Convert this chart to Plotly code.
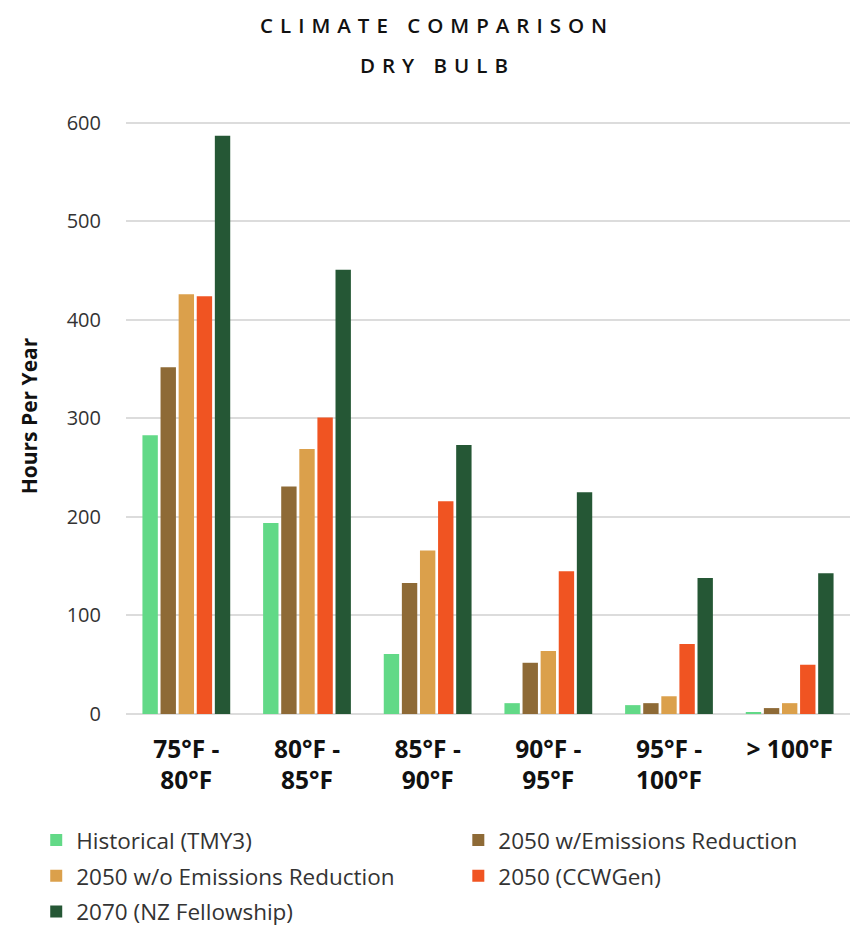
import plotly.graph_objects as go

categories = ["75°F -<br>80°F", "80°F -<br>85°F", "85°F -<br>90°F",
              "90°F -<br>95°F", "95°F -<br>100°F", "> 100°F"]

historical = [283, 194, 61, 11, 9, 2]
w_reduction = [352, 231, 133, 52, 11, 6]
wo_reduction = [426, 269, 166, 64, 18, 11]
ccwgen = [424, 301, 216, 145, 71, 50]
nz_fellowship = [587, 451, 273, 225, 138, 143]

series = [
    ("Historical (TMY3)", historical, "#62D987", "legend"),
    ("2050 w/Emissions Reduction", w_reduction, "#8E6A36", "legend2"),
    ("2050 w/o Emissions Reduction", wo_reduction, "#DBA04B", "legend"),
    ("2050 (CCWGen)", ccwgen, "#F05422", "legend2"),
    ("2070 (NZ Fellowship)", nz_fellowship, "#255735", "legend"),
]

fig = go.Figure()
for name, vals, color, leg in series:
    fig.add_trace(go.Bar(
        x=categories, y=vals, name=name, legend=leg, legendgroup=name,
        marker=dict(color=color, line=dict(width=0)),
    ))

legend_common = dict(
    xref="paper", yref="container", xanchor="left", yanchor="top",
    orientation="v", tracegroupgap=3.5, bgcolor="rgba(0,0,0,0)",
    font=dict(family="Open Sans, sans-serif", size=22.5, color="#333"),
)

title_font = dict(family="Open Sans, sans-serif", size=20.5, color="#111", weight=600)

fig.update_layout(
    width=850, height=928,
    margin=dict(l=126, r=0, t=118, b=214),
    plot_bgcolor="white", paper_bgcolor="white",
    barmode="group", bargap=0.25, bargroupgap=0.15,
    font=dict(family="Open Sans, sans-serif", color="#333"),
    legend=dict(x=-0.124, y=0.1175, **legend_common),
    legend2=dict(x=0.459, y=0.1175, **legend_common),
    annotations=[
        dict(text="CLIMATE COMPARISON", x=0.43, y=1.156, xref="paper", yref="paper",
             yanchor="middle", showarrow=False, font=title_font),
        dict(text="DRY BULB", x=0.43, y=1.089, xref="paper", yref="paper",
             yanchor="middle", showarrow=False, font=title_font),
    ],
)

fig.update_xaxes(
    tickfont=dict(family="Open Sans, sans-serif", size=24.5, color="#111", weight="bold"),
    showline=False, ticks="", ticklabelstandoff=18, automargin=False,
)
fig.update_yaxes(
    range=[0, 605], dtick=100, automargin=False,
    showgrid=True, gridcolor="#dcdcdc", gridwidth=2,
    zeroline=True, zerolinecolor="#dcdcdc", zerolinewidth=2,
    tickfont=dict(family="Open Sans, sans-serif", size=20, color="#333"),
    ticklabelstandoff=24,
    title=dict(text="<b>Hours Per Year</b>", standoff=23,
               font=dict(family="Open Sans, sans-serif", size=21, color="#111")),
)

# drop the page's default body margin and space out the title letters
page_js = """
document.body.style.margin = '0';
document.querySelectorAll('.annotation-text').forEach(function(t){
  t.style.letterSpacing = '7px';
});
"""

fig.write_html("out.html", post_script=page_js, config={"displayModeBar": False})
